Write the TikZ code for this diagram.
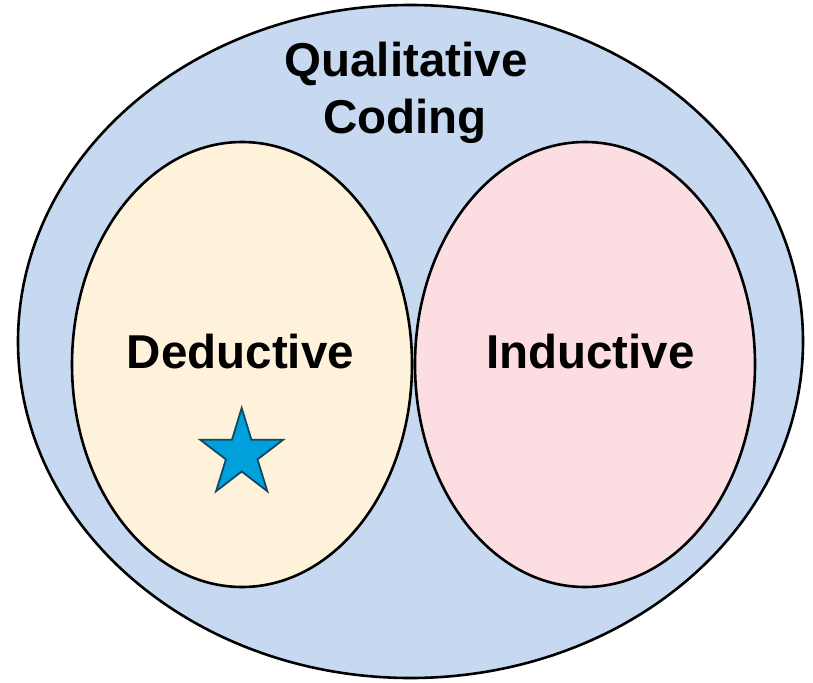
\documentclass[tikz,border=0pt]{standalone}
\usepackage{fontspec}
\setmainfont{Liberation Sans}
\usetikzlibrary{shapes.geometric}
\definecolor{outerblue}{RGB}{198,217,241}
\definecolor{deducream}{RGB}{254,242,218}
\definecolor{inducpink}{RGB}{252,221,225}
\definecolor{starfill}{RGB}{0,160,220}
\definecolor{starline}{RGB}{18,72,98}
\begin{document}
\begin{tikzpicture}[x=1pt,y=-1pt,
  region/.style={ellipse, draw=black, line width=2.6pt, inner sep=0pt},
  label/.style={font=\fontsize{47.5}{56}\selectfont\bfseries, inner sep=0pt, anchor=base}]
  \useasboundingbox (0,0) rectangle (813,682);
  % outer set and the two inner sets
  \node[region, fill=outerblue, minimum width=785pt, minimum height=673pt] (coding) at (410.5,341.5) {};
  \node[region, fill=deducream, minimum width=340pt, minimum height=445pt] (deductive) at (242,364.5) {};
  \node[region, fill=inducpink, minimum width=340pt, minimum height=445pt] (inductive) at (585,364.5) {};
  % labels
  \node[label] (qualt) at (406,77) {Qualitative};
  \node[label] (codingt) at (405,133) {Coding};
  \node[label] (deductt) at (240.5,368) {Deductive};
  \node[label] (inductt) at (590.5,368) {Inductive};
  % star marker, five points alternating with five inner corners
  \begin{scope}[shift={(241.7,454)}]
    \draw[fill=starfill, draw=starline, line width=1.8pt, line join=miter]
      (0,-46)
      \foreach \k in {0,...,4} {
        -- ({16.6*cos(126+72*\k)},{-17.5*sin(126+72*\k)})
        -- ({43.6*cos(162+72*\k)},{-46*sin(162+72*\k)})
      } -- cycle;
  \end{scope}
\end{tikzpicture}
\end{document}
